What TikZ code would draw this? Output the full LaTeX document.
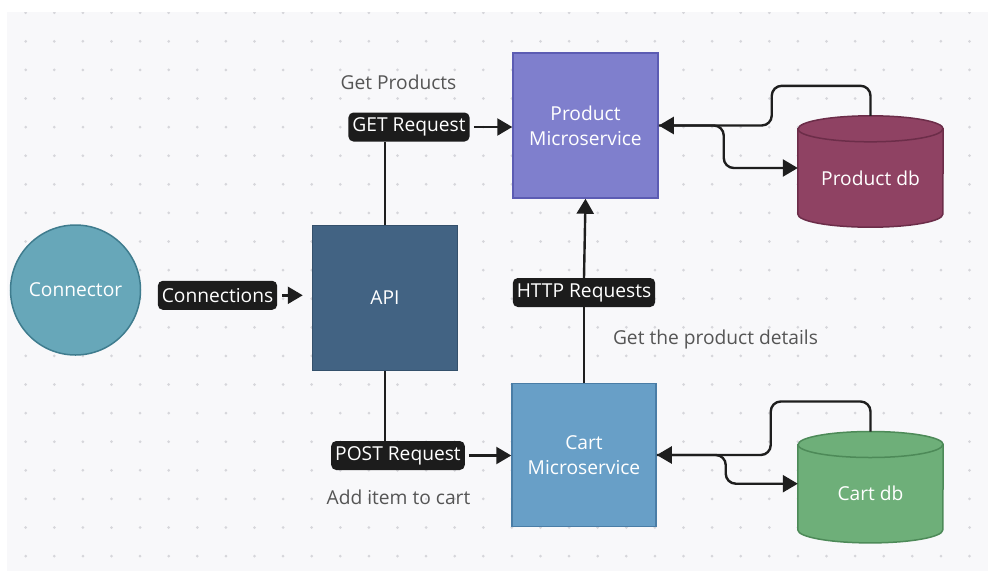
\documentclass[tikz,border=0pt]{standalone}
\usepackage{fontspec}
\setmainfont{Open Sans}
\usetikzlibrary{arrows.meta}

\definecolor{panelbg}{HTML}{F8F8FA}
\definecolor{griddot}{HTML}{D6D6DB}
\definecolor{wirecol}{HTML}{1E1E1E}
\definecolor{tagbg}{HTML}{1C1C1C}
\definecolor{notecol}{HTML}{555555}
\definecolor{connfill}{HTML}{67A7B9}
\definecolor{connline}{HTML}{3F7C8E}
\definecolor{apifill}{HTML}{426383}
\definecolor{apiline}{HTML}{34506B}
\definecolor{pmsfill}{HTML}{7F7FCD}
\definecolor{pmsline}{HTML}{5C5CB3}
\definecolor{cmsfill}{HTML}{689FC7}
\definecolor{cmsline}{HTML}{4A7DA6}
\definecolor{pdbfill}{HTML}{8F4263}
\definecolor{pdbline}{HTML}{6C2D49}
\definecolor{cdbfill}{HTML}{6EAF79}
\definecolor{cdbline}{HTML}{4D8A58}

\tikzset{
  basefont/.style={font=\fontsize{19.2}{25}\selectfont},
  box/.style={basefont, rectangle, text=white, align=center, line width=1.5pt,
    minimum width=145pt, minimum height=145pt, inner sep=0pt},
  tag/.style={basefont, rectangle, rounded corners=5pt, fill=tagbg, text=white,
    inner xsep=4pt, inner ysep=0pt, minimum height=29pt},
  note/.style={basefont, text=notecol, inner sep=0pt},
  drumbody/.style={basefont, rectangle, text=white, minimum width=145pt,
    minimum height=98pt, inner sep=0pt},
  wire/.style={draw=wirecol, line width=2.4pt},
  tip/.style={-{Triangle[length=15pt,width=17pt]}},
}

\newcommand\drawdrum[3]{% node name, fill colour, outline colour
  \path[fill=#2, draw=#3, line width=1.5pt]
    (#1.north west) -- ([yshift=13pt]#1.south west)
    arc[start angle=180, end angle=360, x radius=72.5pt, y radius=13pt]
    -- (#1.north east)
    arc[start angle=0, end angle=180, x radius=72.5pt, y radius=13pt] -- cycle;
  \draw[#3, line width=1.5pt] (#1.north west)
    arc[start angle=180, end angle=360, x radius=72.5pt, y radius=13pt];
}

\begin{document}
\begin{tikzpicture}[x=1pt, y=-1pt]
\useasboundingbox (0,0) rectangle (988,571);
\fill[white] (0,0) rectangle (988,571);
\fill[panelbg] (7,12) rectangle (988,571);

% dotted grid
\begin{scope}
  \clip (7,12) rectangle (988,571);
  \foreach \i in {0,...,33}
    \foreach \j in {0,...,19}
      \fill[griddot] ({25.7+28.6*\i},{12.7+28.6*\j}) circle (1.5pt);
\end{scope}

% services and stores
\node[circle, basefont, text=white, fill=connfill, draw=connline, line width=1.5pt,
      minimum size=130pt, inner sep=0pt] (connector) at (75.5,290) {Connector};
\node[box, fill=apifill, draw=apiline] (api) at (385,298) {API};
\node[box, fill=pmsfill, draw=pmsline] (pms) at (585.5,125.5) {Product\\Microservice};
\node[box, fill=cmsfill, draw=cmsline, minimum width=144pt, minimum height=143pt]
      (cms) at (584,455) {Cart\\Microservice};

\node[drumbody] (pdb) at (870.5,178) {};
\drawdrum{pdb}{pdbfill}{pdbline}
\node[basefont, text=white] at (pdb) {Product db};

\node[drumbody] (cdb) at (870.5,493.7) {};
\drawdrum{cdb}{cdbfill}{cdbline}
\node[basefont, text=white] at (cdb) {Cart db};

% connector labels
\node[tag] (conns) at (217.5,295.3) {Connections};
\node[tag] (getreq) at (409,127) {GET Request};
\node[tag] (postreq) at (398,455.5) {POST Request};
\node[tag] (httpreq) at (584,292.5) {HTTP Requests};

% notes
\node[note] (n1) at (398.5,82) {Get Products};
\node[note] (n2) at (715.5,340) {Get the product details};
\node[note] (n3) at (398.5,497) {Add item to cart};

% Connector -> API
\draw[wire, tip, shorten >=9pt] ([xshift=5pt]conns.east) -- (api.west |- conns.east);

% API -> Product Microservice
\draw[wire] (api.north) -- (api.north |- getreq.south);
\draw[wire, tip] ([xshift=4pt]getreq.east) -- (pms.west |- getreq.east);

% API -> Cart Microservice
\draw[wire] (api.south) -- (api.south |- postreq.north);
\draw[wire, tip] ([xshift=4pt]postreq.east) -- (cms.west |- postreq.east);

% Cart Microservice -> Product Microservice
\draw[wire] (cms.north) -- (httpreq.south);
\draw[wire, tip] (httpreq.north) -- (pms.south);

% Product Microservice <-> Product db
\draw[wire, tip, rounded corners=10pt] ([yshift=13pt]pdb.north) -- ++(0,-30)
  -| ([xshift=113pt]pms.east) -- (pms.east);
\draw[wire, tip, rounded corners=10pt] (pms.east) -- ([xshift=65pt]pms.east)
  |- ([yshift=10pt]pdb.west);

% Cart Microservice <-> Cart db
\draw[wire, tip, rounded corners=10pt] ([yshift=13pt]cdb.north) -- ++(0,-30)
  -| ([xshift=114pt]cms.east) -- (cms.east);
\draw[wire, tip, rounded corners=10pt] (cms.east) -- ([xshift=69pt]cms.east)
  |- ([yshift=10pt]cdb.west);
\end{tikzpicture}
\end{document}
